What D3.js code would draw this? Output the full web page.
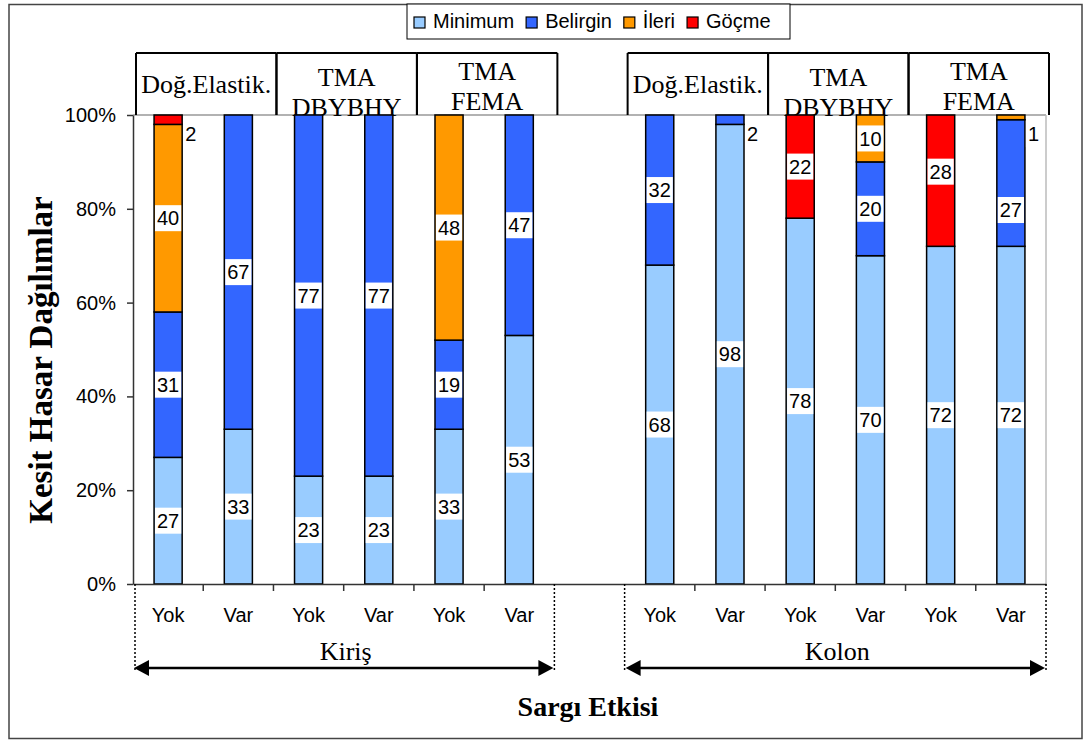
<!DOCTYPE html>
<html>
<head>
<meta charset="utf-8">
<script src="https://cdn.jsdelivr.net/npm/d3@7"></script>
<style>
  body { margin: 0; background: #fff; }
  text { fill: #000; }
</style>
</head>
<body>
<div id="chart"></div>
<script>
// Chart values (slot 6 is the empty gap between Kiriş and Kolon)
var categories = ["Yok", "Var", "Yok", "Var", "Yok", "Var", "", "Yok", "Var", "Yok", "Var", "Yok", "Var"];
var minimumValues = [27, 33, 23, 23, 33, 53, null, 68, 98, 78, 70, 72, 72];
var belirginValues = [31, 67, 77, 77, 19, 47, null, 32, 2, 0, 20, 0, 27];
var ileriValues = [40, 0, 0, 0, 48, 0, null, 0, 0, 0, 10, 0, 1];
var gocmeValues = [2, 0, 0, 0, 0, 0, null, 0, 0, 22, 0, 28, 0];
var seriesNames = ["Minimum", "Belirgin", "İleri", "Göçme"];
var seriesColors = ["#99ccff", "#3366ff", "#ff9900", "#ff0000"];
var yTicks = [0, 20, 40, 60, 80, 100];
var headerLabels = [["Doğ.Elastik."], ["TMA", "DBYBHY"], ["TMA", "FEMA"]];
var groupNames = ["Kiriş", "Kolon"];
var yTitle = "Kesit Hasar Dağılımlar";
var xTitle = "Sargı Etkisi";

var W = 1084, H = 740;
var serif = "'Liberation Serif', 'Times New Roman', serif";
var sans = "'Liberation Sans', Arial, sans-serif";

var svg = d3
  .select("#chart")
  .append("svg")
  .attr("width", W)
  .attr("height", H);

// outer frame
svg.append("rect")
  .attr("x", 9).attr("y", 4.5)
  .attr("width", 1073).attr("height", 734)
  .attr("fill", "#fff")
  .attr("stroke", "#444")
  .attr("stroke-width", 1.5);

var x = d3.scaleBand().domain(d3.range(categories.length)).range([133, 1046]).padding(0);
var y = d3.scaleLinear().domain([0, 100]).range([584, 115]);
var bw = x.bandwidth();

// build rows for stacking
var rows = [];
categories.forEach(function (c, i) {
  if (minimumValues[i] === null) return;
  rows.push({
    slot: i,
    Minimum: minimumValues[i],
    Belirgin: belirginValues[i],
    "İleri": ileriValues[i],
    "Göçme": gocmeValues[i]
  });
});
var stacked = d3.stack().keys(seriesNames)(rows);

// plot area border (top grid + right side)
svg.append("line")
  .attr("x1", x.range()[0]).attr("x2", x.range()[1])
  .attr("y1", y(100)).attr("y2", y(100))
  .attr("stroke", "#999").attr("stroke-width", 1.5);
svg.append("line")
  .attr("x1", x.range()[1]).attr("x2", x.range()[1])
  .attr("y1", y(100)).attr("y2", y(0))
  .attr("stroke", "#bbb").attr("stroke-width", 1.5);

// header boxes
var headerG = svg.append("g");
[0, 7].forEach(function (start) {
  headerLabels.forEach(function (lines, k) {
    var x0 = x(start + k * 2) + 3;
    var x1 = (start + k * 2 + 2 < categories.length ? x(start + k * 2 + 2) : x.range()[1]) + 3;
    headerG.append("line")
      .attr("x1", x0).attr("x2", x1).attr("y1", 53).attr("y2", 53)
      .attr("stroke", "#000").attr("stroke-width", 2);
    [x0, x1].forEach(function (xx) {
      headerG.append("line")
        .attr("x1", xx).attr("x2", xx).attr("y1", 53).attr("y2", 115)
        .attr("stroke", "#000").attr("stroke-width", 2);
    });
    var t = headerG.append("text")
      .attr("x", (x0 + x1) / 2)
      .attr("text-anchor", "middle")
      .style("font-family", serif)
      .style("font-size", "26px");
    if (lines.length === 1) {
      t.attr("y", 93).text(lines[0]);
    } else {
      lines.forEach(function (l, j) {
        t.append("tspan").attr("x", (x0 + x1) / 2).attr("y", (k === 1 ? 86 : 80) + j * 30).text(l);
      });
    }
  });
});

// bars
var layers = svg.selectAll("g.layer")
  .data(stacked)
  .enter()
  .append("g")
  .attr("class", "layer")
  .attr("fill", function (d, i) { return seriesColors[i]; });

layers.selectAll("rect")
  .data(function (d) { return d.filter(function (p) { return p[1] - p[0] > 0; }); })
  .enter()
  .append("rect")
  .attr("x", function (d) { return x(d.data.slot) + bw * 0.3; })
  .attr("width", bw * 0.4)
  .attr("y", function (d) { return y(d[1]); })
  .attr("height", function (d) { return y(d[0]) - y(d[1]); })
  .attr("stroke", "#000")
  .attr("stroke-width", 1.5);

// data labels (a couple were dragged off-centre in the original)
var labelNudge = { "11-Göçme": -9, "12-Belirgin": 27 };
var labelG = svg.append("g");
stacked.forEach(function (layer) {
  layer.forEach(function (p) {
    var v = p[1] - p[0];
    if (v <= 0) return;
    var small = v < 5;
    var cx = small ? x(p.data.slot) + bw * 0.7 + 3 : x(p.data.slot) + bw / 2;
    var cy = small ? y(p[1]) + 19 : y((p[0] + p[1]) / 2);
    cy += labelNudge[p.data.slot + "-" + layer.key] || 0;
    var g = labelG.append("g");
    var bg = g.append("rect").attr("fill", "#fff");
    var t = g.append("text")
      .attr("x", cx)
      .attr("y", cy)
      .attr("dy", "0.36em")
      .attr("text-anchor", small ? "start" : "middle")
      .style("font-family", sans)
      .style("font-size", "20px")
      .text(v);
    var bb = t.node().getBBox();
    bg.attr("x", bb.x - 2).attr("y", cy - 13).attr("width", bb.width + 4).attr("height", 26);
  });
});

// y axis
var yAxis = svg.append("g")
  .attr("transform", "translate(" + x.range()[0] + ",0)")
  .call(d3.axisLeft(y).tickValues(yTicks).tickFormat(function (d) { return d + "%"; }).tickSize(6).tickSizeOuter(0).tickPadding(11));
yAxis.selectAll("text").style("font-family", sans).style("font-size", "20px");
yAxis.selectAll("line, path").attr("stroke", "#333").attr("stroke-width", 1.5);

// x axis
var xAxis = svg.append("g")
  .attr("transform", "translate(0," + y(0) + ")")
  .call(d3.axisBottom(x).tickFormat(function (i) { return categories[i]; }).tickSize(0).tickSizeOuter(0).tickPadding(24));
xAxis.selectAll("text").style("font-family", sans).style("font-size", "20px");
xAxis.select("path").attr("stroke", "#333").attr("stroke-width", 1.5);

// ticks at band boundaries, dotted at group edges
var edges = [0, 6, 7, categories.length];
d3.range(0, categories.length + 1).forEach(function (i) {
  var xx = i < categories.length ? x(i) : x.range()[1];
  if (edges.indexOf(i) >= 0) {
    svg.append("line")
      .attr("x1", xx + (i === 0 ? 2 : 0)).attr("x2", xx + (i === 0 ? 2 : 0))
      .attr("y1", y(0)).attr("y2", 672)
      .attr("stroke", "#000").attr("stroke-width", 1.5)
      .attr("stroke-dasharray", "2,2");
  } else {
    svg.append("line")
      .attr("x1", xx).attr("x2", xx)
      .attr("y1", y(0)).attr("y2", y(0) + 7)
      .attr("stroke", "#333").attr("stroke-width", 1.5);
  }
});

// group arrows and names
[[0, 6], [7, categories.length]].forEach(function (r, k) {
  var x0 = x(r[0]) + 1;
  var x1 = (r[1] < categories.length ? x(r[1]) : x.range()[1]) - 1;
  var ay = 668;
  svg.append("line")
    .attr("x1", x0 + 10).attr("x2", x1 - 10).attr("y1", ay).attr("y2", ay)
    .attr("stroke", "#000").attr("stroke-width", 2.5);
  svg.append("path")
    .attr("d", "M" + x0 + "," + ay + "L" + (x0 + 15) + "," + (ay - 8) + "L" + (x0 + 15) + "," + (ay + 8) + "Z")
    .attr("fill", "#000");
  svg.append("path")
    .attr("d", "M" + x1 + "," + ay + "L" + (x1 - 15) + "," + (ay - 8) + "L" + (x1 - 15) + "," + (ay + 8) + "Z")
    .attr("fill", "#000");
  svg.append("text")
    .attr("x", (x0 + x1) / 2 + 2)
    .attr("y", 660)
    .attr("text-anchor", "middle")
    .style("font-family", serif)
    .style("font-size", "26px")
    .text(groupNames[k]);
});

// axis titles
svg.append("text")
  .attr("transform", "translate(52,360) rotate(-90)")
  .attr("text-anchor", "middle")
  .style("font-family", serif)
  .style("font-weight", "bold")
  .style("font-size", "33px")
  .text(yTitle);

svg.append("text")
  .attr("x", 588)
  .attr("y", 716)
  .attr("text-anchor", "middle")
  .style("font-family", serif)
  .style("font-weight", "bold")
  .style("font-size", "28px")
  .text(xTitle);

// legend
var legend = svg.append("g");
legend.append("rect")
  .attr("x", 407).attr("y", 4)
  .attr("width", 383).attr("height", 35)
  .attr("fill", "#fff")
  .attr("stroke", "#000").attr("stroke-width", 1);
var lx = 414;
seriesNames.forEach(function (name, i) {
  legend.append("rect")
    .attr("x", lx).attr("y", 17)
    .attr("width", 11).attr("height", 11)
    .attr("fill", seriesColors[i])
    .attr("stroke", "#000").attr("stroke-width", 1.2);
  var t = legend.append("text")
    .attr("x", lx + 19).attr("y", 28)
    .style("font-family", sans)
    .style("font-size", "20px")
    .text(name);
  lx += 19 + t.node().getComputedTextLength() + 12;
});
</script>
</body>
</html>
